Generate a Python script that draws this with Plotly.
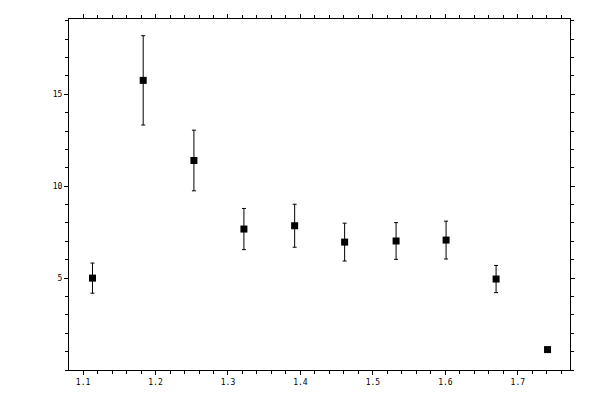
import plotly.graph_objects as go

# values
x_values = [1.113, 1.183, 1.253, 1.322, 1.392, 1.461, 1.532, 1.601, 1.670, 1.741]
y_values = [5.0, 15.76, 11.4, 7.67, 7.85, 6.96, 7.02, 7.07, 4.95, 1.11]
y_errors = [0.82, 2.43, 1.65, 1.12, 1.17, 1.03, 1.0, 1.03, 0.74, 0.12]

x_tick_values = [1.1, 1.2, 1.3, 1.4, 1.5, 1.6, 1.7]
x_tick_labels = ["1.1", "1.2", "1.3", "1.4", "1.5", "1.6", "1.7"]
y_tick_values = [5, 10, 15]
y_tick_labels = ["5", "10", "15"]

x_range = [1.0806, 1.772]
y_range = [0, 19.1]

font = dict(family="DejaVu Sans Mono", size=8, color="black")

fig = go.Figure()

fig.add_trace(go.Scatter(
	x=x_values, y=y_values, mode="markers",
	marker=dict(symbol="square", size=7, color="black"),
	error_y=dict(type="data", array=y_errors, color="black", thickness=1, width=2),
	showlegend=False,
))

# outer ticks (with labels)
axis_common = dict(
	showline=True, linecolor="black", linewidth=1, mirror="ticks",
	showgrid=False, zeroline=False, ticks="outside", ticklen=4,
	tickcolor="black", tickwidth=1, tickfont=font, automargin=False,
)

# inner half of the major ticks, drawn by overlay axes
inner_common = dict(
	tickmode="array", showticklabels=False, ticks="inside", ticklen=4,
	tickcolor="black", mirror="ticks", showline=False, showgrid=False,
	zeroline=False, automargin=False,
)

# the page body adds 8px, so margins are shifted to keep the frame in place
fig.update_layout(
	width=600, height=400,
	margin=dict(l=61, r=38, t=11, b=38),
	paper_bgcolor="white", plot_bgcolor="white",
	xaxis=dict(
		range=x_range, tickmode="array", tickvals=x_tick_values, ticktext=x_tick_labels,
		minor=dict(ticks="outside", ticklen=3, dtick=0.02, tick0=1.0, tickcolor="black"),
		**axis_common,
	),
	yaxis=dict(
		range=y_range, tickmode="array", tickvals=y_tick_values, ticktext=y_tick_labels,
		minor=dict(ticks="outside", ticklen=3, dtick=1, tick0=0, tickcolor="black"),
		**axis_common,
	),
	xaxis2=dict(overlaying="x", range=x_range, tickvals=x_tick_values, anchor="y", **inner_common),
	yaxis2=dict(overlaying="y", range=y_range, tickvals=y_tick_values, anchor="x", **inner_common),
)

fig.write_html("out.html")
